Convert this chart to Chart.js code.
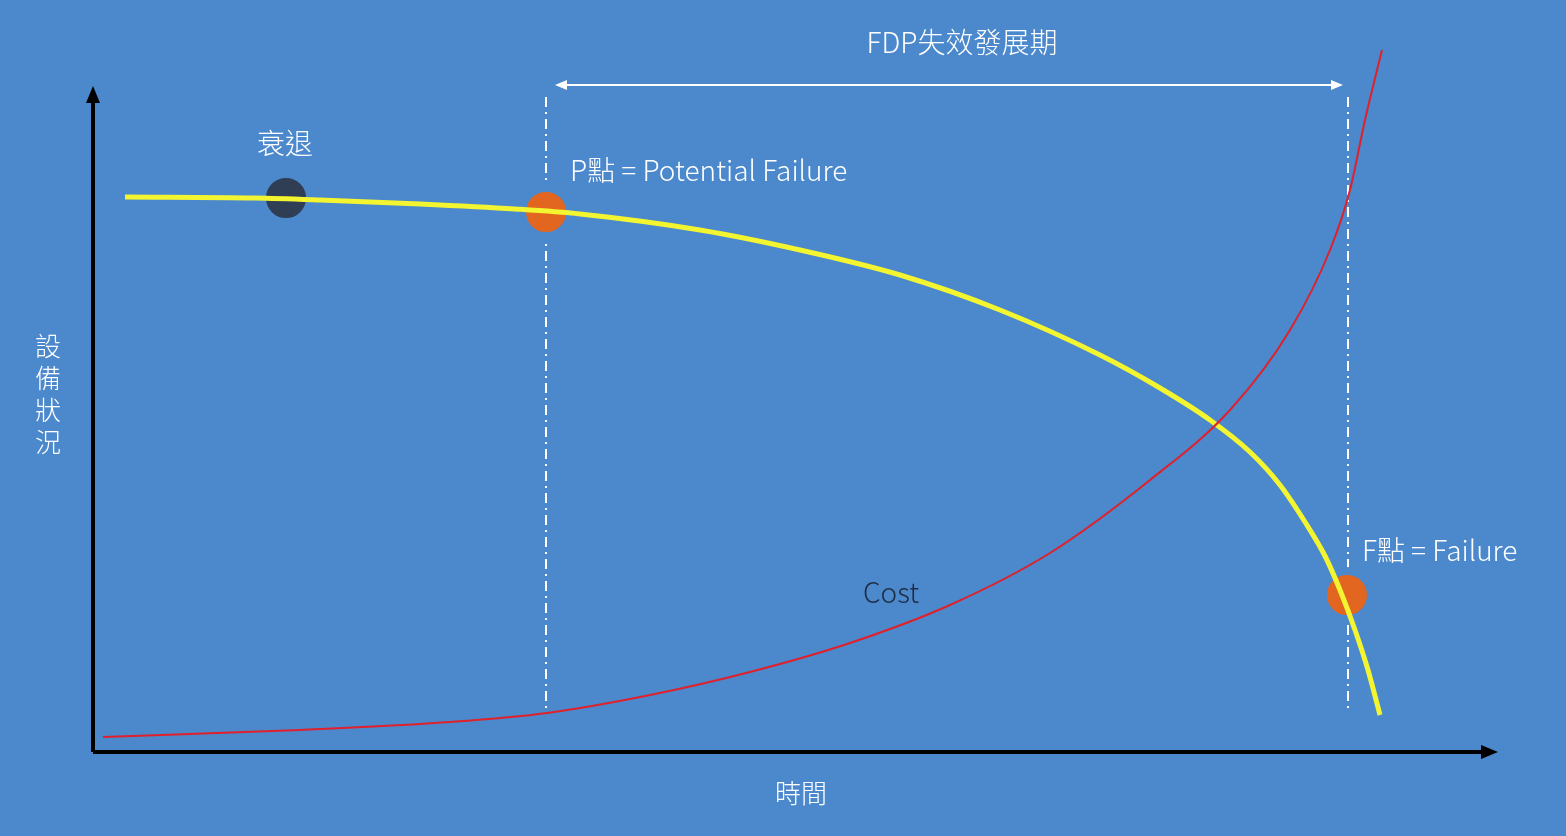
<!DOCTYPE html>
<html>
<head>
<meta charset="utf-8">
<script src="https://cdn.jsdelivr.net/npm/chart.js@4/dist/chart.umd.min.js"></script>
<style>
  html, body { margin: 0; padding: 0; background: #4b88cc; }
  canvas { display: block; }
</style>
</head>
<body>
<canvas id="pf" width="1566" height="836"></canvas>
<script>
// Schematic P-F curve, values in drawing units (time on x, condition on y, y grows downward)
var conditionX = [125, 255, 320, 420, 515, 580, 700, 800, 900, 1000, 1100, 1160, 1210, 1250, 1280, 1305, 1325, 1340, 1355, 1368, 1380];
var conditionY = [197, 198, 200, 204, 209, 214, 230, 250, 275, 310, 355, 388, 420, 452, 485, 522, 556, 590, 630, 670, 715];
var costX = [103, 300, 450, 547, 650, 750, 850, 950, 1050, 1150, 1230, 1290, 1330, 1350, 1365, 1382];
var costY = [737, 730, 722, 713, 695, 672, 643, 605, 553, 480, 410, 330, 250, 190, 120, 50];
var declinePoint = [286, 198];
var pPoint = [546, 212];
var fPoint = [1347, 595];
var bg = '#4b88cc';

function pts(xs, ys) {
    return xs.map(function(x, i) { return { x: x, y: ys[i] }; });
}

var decor = {
    id: 'decor',
    beforeDatasetsDraw: function(chart) {
        var c = chart.ctx, sx = chart.scales.x, sy = chart.scales.y;
        var X = function(v) { return sx.getPixelForValue(v); };
        var Y = function(v) { return sy.getPixelForValue(v); };
        c.save();
        // dash-dot verticals
        c.strokeStyle = '#ffffff';
        c.lineWidth = 2;
        c.setLineDash([10, 5, 2, 5]);
        [pPoint[0], fPoint[0] + 1].forEach(function(v) {
            c.beginPath(); c.moveTo(X(v), Y(97)); c.lineTo(X(v), Y(712)); c.stroke();
        });
        c.setLineDash([]);
        // FDP span arrow
        c.beginPath(); c.moveTo(X(557), Y(85)); c.lineTo(X(1341), Y(85)); c.stroke();
        c.fillStyle = '#ffffff';
        c.beginPath(); c.moveTo(X(555), Y(85)); c.lineTo(X(567), Y(80)); c.lineTo(X(567), Y(90)); c.fill();
        c.beginPath(); c.moveTo(X(1343), Y(85)); c.lineTo(X(1331), Y(80)); c.lineTo(X(1331), Y(90)); c.fill();
        // axes
        c.strokeStyle = '#000000'; c.fillStyle = '#000000'; c.lineWidth = 4;
        c.beginPath(); c.moveTo(X(93), Y(752)); c.lineTo(X(93), Y(100)); c.stroke();
        c.beginPath(); c.moveTo(X(93), Y(752)); c.lineTo(X(1485), Y(752)); c.stroke();
        c.beginPath(); c.moveTo(X(93), Y(86)); c.lineTo(X(86), Y(103)); c.lineTo(X(100), Y(103)); c.fill();
        c.beginPath(); c.moveTo(X(1498), Y(752)); c.lineTo(X(1481), Y(745)); c.lineTo(X(1481), Y(759)); c.fill();
        c.restore();
    },
    afterDraw: function(chart) {
        var c = chart.ctx, sx = chart.scales.x, sy = chart.scales.y;
        var X = function(v) { return sx.getPixelForValue(v); };
        var Y = function(v) { return sy.getPixelForValue(v); };
        c.save();
        c.textBaseline = 'middle';
        c.font = '300 28px "Noto Sans CJK TC", "Noto Sans", sans-serif';
        c.fillStyle = '#ffffff';
        c.textAlign = 'center';
        c.fillText('FDP失效發展期', X(962), Y(42));
        c.fillText('衰退', X(285), Y(143));
        c.textAlign = 'left';
        c.fillText('P點 = Potential Failure', X(570), Y(170));
        c.fillText('F點 = Failure', X(1362), Y(550));
        c.textAlign = 'center';
        c.font = '300 26px "Noto Sans CJK TC", "Noto Sans", sans-serif';
        c.fillText('時間', X(801), Y(793));
        ['設', '備', '狀', '況'].forEach(function(ch, i) {
            c.fillText(ch, X(48), Y(346 + i * 32));
        });
        c.font = '300 28px "Noto Sans CJK TC", "Noto Sans", sans-serif';
        c.fillStyle = '#1e2c40';
        c.fillText('Cost', X(891), Y(592));
        c.restore();
    }
};

new Chart(document.getElementById('pf'), {
    type: 'scatter',
    data: {
        datasets: [{
            data: pts(costX, costY),
            showLine: true, borderColor: '#e0202a', borderWidth: 2,
            pointRadius: 0, cubicInterpolationMode: 'monotone'
        }, {
            data: pts(conditionX, conditionY),
            showLine: true, borderColor: '#f2f530', borderWidth: 5,
            pointRadius: 0, cubicInterpolationMode: 'monotone'
        }, {
            data: [{ x: declinePoint[0], y: declinePoint[1] }],
            pointRadius: 24, pointBackgroundColor: '#2f3d55',
            pointBorderColor: bg, pointBorderWidth: 8
        }, {
            data: [{ x: pPoint[0], y: pPoint[1] }, { x: fPoint[0], y: fPoint[1] }],
            pointRadius: 24, pointBackgroundColor: '#e2661f',
            pointBorderColor: bg, pointBorderWidth: 8
        }]
    },
    options: {
        responsive: false,
        animation: false,
        layout: { padding: 0, autoPadding: false },
        clip: false,
        plugins: { legend: { display: false }, tooltip: { enabled: false } },
        scales: {
            x: { type: 'linear', min: 0, max: 1566, display: false },
            y: { type: 'linear', min: 0, max: 836, reverse: true, display: false }
        }
    },
    plugins: [decor]
});
</script>
</body>
</html>
